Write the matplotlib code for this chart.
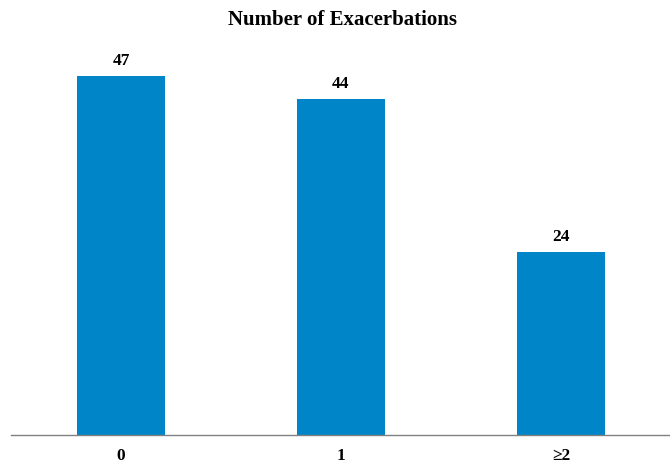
import matplotlib.pyplot as plt

categories = ['0', '1', '≥2']
counts = [47, 44, 24]

plt.rcParams['font.family'] = ['Liberation Serif', 'DejaVu Serif']

fig = plt.figure(figsize=(6.7, 4.66), dpi=100)
ax = fig.add_axes([11/670, 31/466, 660/670, 382/466])

xs = range(len(categories))
bars = ax.bar(xs, counts, width=0.4, color='#0086C8')

for x, v in zip(xs, counts):
    ax.annotate(str(v), (x, v), xytext=(0, 5), textcoords='offset points',
                ha='center', va='bottom', fontsize=12.5, fontweight='bold')

ax.set_xlim(-0.5, 2.5)
ax.set_ylim(0, 50)
ax.set_xticks(list(xs))
ax.set_xticklabels(categories, fontsize=12.5, fontweight='bold')
ax.tick_params(axis='x', length=0, pad=9)
ax.set_yticks([])
for s in ['top', 'right', 'left']:
    ax.spines[s].set_visible(False)
ax.spines['bottom'].set_color('#808080')
ax.spines['bottom'].set_linewidth(1)

fig.text(342/670, 1 - 20/466, 'Number of Exacerbations', ha='center', va='center',
         fontsize=15, fontweight='bold')

fig.savefig('out.png', dpi=100)
